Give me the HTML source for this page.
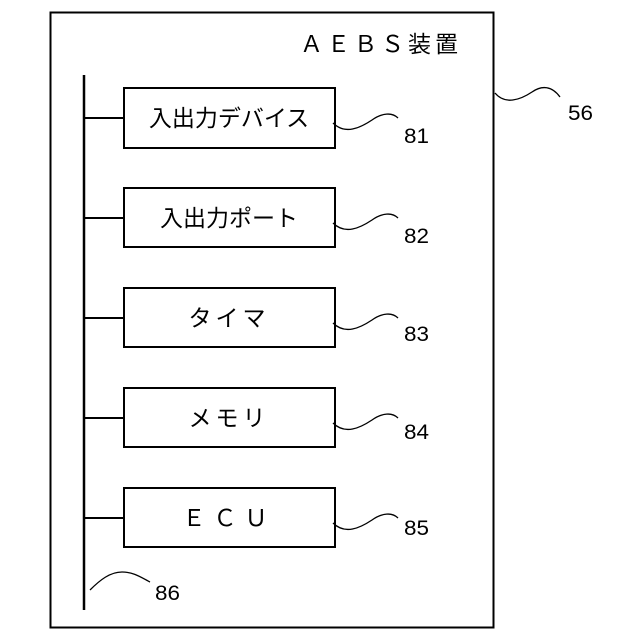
<!DOCTYPE html>
<html><head><meta charset="utf-8"><style>
html,body{margin:0;padding:0;background:#fff;}
svg{display:block}
text{font-family:"Liberation Sans","Noto Sans CJK JP",sans-serif;fill:#000}
</style></head><body>
<svg width="640" height="640" viewBox="0 0 640 640" xmlns="http://www.w3.org/2000/svg">
<rect x="50.5" y="12.5" width="443" height="615" fill="none" stroke="#000" stroke-width="2"/>
<text x="462" y="52" font-size="23" text-anchor="end" letter-spacing="4">ＡＥＢＳ装置</text>
<line x1="84" y1="75" x2="84" y2="610" stroke="#000" stroke-width="2.5"/>
<g stroke="#000" stroke-width="2" fill="none">
<line x1="84" y1="118" x2="124" y2="118"/>
<line x1="84" y1="218" x2="124" y2="218"/>
<line x1="84" y1="318" x2="124" y2="318"/>
<line x1="84" y1="418" x2="124" y2="418"/>
<line x1="84" y1="518" x2="124" y2="518"/>
<rect x="124" y="88" width="211" height="60"/>
<rect x="124" y="188" width="211" height="59"/>
<rect x="124" y="288" width="211" height="59"/>
<rect x="124" y="388" width="211" height="59"/>
<rect x="124" y="488" width="211" height="59"/>
</g>
<g stroke="#000" stroke-width="1.3" fill="none">
<path d="M333 123 C345 135 360 128 372 120 C382 113 392 112 398 118"/>
<path d="M333 223 C345 235 360 228 372 220 C382 213 392 212 398 218"/>
<path d="M333 323 C345 335 360 328 372 320 C382 313 392 312 398 318"/>
<path d="M333 423 C345 435 360 428 372 420 C382 413 392 412 398 418"/>
<path d="M333 523 C345 535 360 528 372 520 C382 513 392 512 398 518"/>
<path d="M495 93 C505 105 520 100 532 92 C542 85 552 86 560 97"/>
<path d="M90 590 C100 580 110 572 122 572 C134 572 142 578 150 582"/>
</g>
<g font-size="23" text-anchor="middle">
<text x="229" y="126">入出力デバイス</text>
<text x="229" y="226">入出力ポート</text>
<text x="229" y="326" letter-spacing="4">タイマ</text>
<text x="229" y="426" letter-spacing="4">メモリ</text>
<text x="229" y="526" letter-spacing="8">ＥＣＵ</text>
</g>
<g font-size="21">
<text x="404" y="143" textLength="25" lengthAdjust="spacingAndGlyphs">81</text>
<text x="404" y="243" textLength="25" lengthAdjust="spacingAndGlyphs">82</text>
<text x="404" y="341" textLength="25" lengthAdjust="spacingAndGlyphs">83</text>
<text x="404" y="439" textLength="25" lengthAdjust="spacingAndGlyphs">84</text>
<text x="404" y="535" textLength="25" lengthAdjust="spacingAndGlyphs">85</text>
<text x="568" y="120" textLength="25" lengthAdjust="spacingAndGlyphs">56</text>
<text x="155" y="600" textLength="25" lengthAdjust="spacingAndGlyphs">86</text>
</g>
</svg>
</body></html>
